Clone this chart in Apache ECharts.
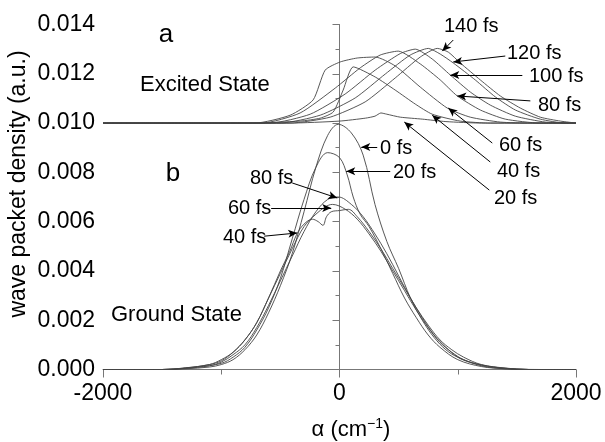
<!DOCTYPE html>
<html>
<head>
<meta charset="utf-8">
<script src="https://cdn.jsdelivr.net/npm/echarts@6/dist/echarts.min.js"></script>
<style>
  html, body { margin: 0; padding: 0; background: #fff; }
  #chart { width: 605px; height: 442px; }
</style>
</head>
<body>
<div id="chart"></div>
<script>
// x in cm^-1, y in a.u.; excited-state curves are drawn on the 0.010 baseline like the original
var xTicks = [-2000, 0, 2000];
var yTicks = [0, 0.002, 0.004, 0.006, 0.008, 0.010, 0.012, 0.014];

// ground state (panel b)
var g0 = [[-2000,0],[-1500,0],[-1300,0.00003],[-1100,0.0001],[-1000,0.0002],[-900,0.0004],[-800,0.0008],
  [-700,0.0014],[-600,0.0023],[-500,0.0034],[-400,0.0047],[-300,0.0064],[-200,0.0082],[-100,0.0095],
  [-10,0.00995],[100,0.0096],[200,0.0087],[300,0.0067],[400,0.0052],[500,0.0041],[600,0.0029],
  [700,0.0020],[800,0.0013],[900,0.0008],[1000,0.0005],[1200,0.00015],[1400,0.00003],[1600,0],[2000,0]];
var g20 = [[-2000,0],[-1500,0],[-1200,0.0001],[-1000,0.00025],[-900,0.0005],[-800,0.0009],[-700,0.0016],
  [-600,0.0025],[-500,0.0037],[-400,0.0053],[-300,0.0069],[-200,0.0082],[-100,0.0088],[0,0.0086],
  [65,0.0079],[116,0.0070],[175,0.0063],[250,0.0058],[350,0.0049],[450,0.0039],[550,0.0029],
  [650,0.0021],[750,0.0014],[850,0.0009],[1000,0.0004],[1200,0.00012],[1400,0.00003],[1600,0],[2000,0]];
var g40 = [[-2000,0],[-1500,0],[-1300,0.00007],[-1100,0.0002],[-1000,0.0004],[-900,0.0007],[-800,0.0012],
  [-700,0.0019],[-600,0.0029],[-500,0.0040],[-420,0.0048],[-360,0.0055],[-300,0.0059],[-230,0.0061],
  [-180,0.0060],[-140,0.00585],[-110,0.0062],[-70,0.0064],[0,0.00645],[75,0.0065],[150,0.0062],
  [250,0.0056],[350,0.0049],[450,0.0041],[550,0.0033],[650,0.0025],[750,0.0018],[850,0.0012],
  [950,0.0008],[1050,0.0005],[1200,0.0002],[1400,0.00006],[1600,0],[2000,0]];
var g60 = [[-2000,0],[-1500,0],[-1300,0.00006],[-1100,0.0002],[-1000,0.00035],[-900,0.0007],[-800,0.0012],
  [-700,0.0019],[-600,0.0029],[-500,0.0039],[-400,0.0049],[-300,0.0058],[-200,0.0063],[-120,0.0066],
  [-60,0.0067],[50,0.0065],[150,0.0061],[250,0.0055],[350,0.0048],[450,0.0040],[550,0.0032],
  [650,0.0024],[750,0.0017],[850,0.0011],[950,0.0007],[1050,0.0004],[1200,0.00018],[1400,0.00005],[1600,0],[2000,0]];
var g80 = [[-2000,0],[-1500,0],[-1300,0.00005],[-1100,0.00015],[-1000,0.0003],[-900,0.0006],[-800,0.0010],
  [-700,0.0017],[-600,0.0026],[-500,0.0036],[-400,0.0046],[-300,0.0056],[-200,0.0064],[-100,0.0069],
  [-10,0.0070],[100,0.0067],[200,0.0062],[300,0.0055],[400,0.0047],[500,0.0038],[600,0.0029],
  [700,0.0021],[800,0.0014],[900,0.0009],[1000,0.0005],[1100,0.0003],[1300,0.0001],[1500,0.00002],[1700,0],[2000,0]];

// excited state (panel a)
var e20 = [[-2000,0.0100],[-420,0.0100],[0,0.01008],[220,0.0102],[300,0.01028],[350,0.01041],[400,0.01036],
  [514,0.01024],[700,0.01016],[900,0.01006],[1200,0.0100],[2000,0.0100]];
var e40 = [[-2000,0.0100],[-755,0.0100],[-333,0.01008],[-163,0.0102],[-53,0.01045],[31,0.01134],[116,0.01228],
  [302,0.01187],[471,0.01134],[641,0.01077],[784,0.01036],[1021,0.01008],[1275,0.0100],[2000,0.0100]];
var e60 = [[-2000,0.0100],[-713,0.0100],[-417,0.01032],[-223,0.01094],[-121,0.01215],[6,0.01248],[150,0.01264],
  [302,0.01268],[471,0.01232],[683,0.01146],[911,0.01061],[1106,0.01024],[1360,0.01004],[1614,0.0100],[2000,0.0100]];
var e80 = [[-2000,0.0100],[-654,0.0100],[-333,0.01041],[-36,0.01142],[175,0.01224],[344,0.01276],[497,0.01292],
  [683,0.01240],[852,0.01175],[996,0.0111],[1191,0.01053],[1402,0.01016],[1698,0.0100],[2000,0.0100]];
var e100 = [[-2000,0.0100],[-587,0.0100],[-248,0.01036],[48,0.01118],[302,0.01215],[514,0.01282],[641,0.01300],
  [784,0.01260],[937,0.01195],[1106,0.01126],[1275,0.01073],[1487,0.01028],[1741,0.01004],[2000,0.0100]];
var e120 = [[-2000,0.0100],[-502,0.0100],[-163,0.01032],[133,0.01102],[387,0.01199],[598,0.01276],[751,0.01303],
  [852,0.01280],[962,0.01244],[1148,0.01175],[1318,0.01106],[1487,0.01053],[1698,0.01016],[1910,0.0100],[2000,0.0100]];
var e140 = [[-2000,0.0100],[-417,0.0100],[-79,0.01024],[217,0.01086],[471,0.01183],[683,0.01268],[827,0.01303],
  [920,0.01288],[1021,0.01244],[1191,0.01175],[1360,0.0111],[1529,0.01061],[1698,0.01024],[1868,0.01008],[2000,0.0100]];

// label arrows: [from, to] in data units
var arrows = [
  [[962,0.01337],[869,0.01292]],
  [[1402,0.01272],[962,0.01248]],
  [[1546,0.01195],[937,0.01195]],
  [[1614,0.0109],[996,0.0111]],
  [[1292,0.00919],[920,0.01061]],
  [[1275,0.00842],[784,0.01032]],
  [[1267,0.00728],[548,0.01004]],
  [[319,0.00903],[184,0.00903]],
  [[429,0.00805],[57,0.00805]],
  [[-400,0.00757],[-19,0.00696]],
  [[-578,0.00655],[-70,0.00655]],
  [[-637,0.00541],[-358,0.00554]]
];

var FONT = "'Liberation Sans', Arial, sans-serif";

var chart = echarts.init(document.getElementById('chart'));

function curve(d, sm) {
  return {
    type: 'line', data: d, showSymbol: false, symbol: 'none', smooth: sm,
    lineStyle: { color: '#444', width: 0.9 }, silent: true, animation: false
  };
}

function txt(s, x, y, size, align) {
  return { type: 'text', x: x, y: y,
    style: { text: s, fontSize: size, fontFamily: FONT, fill: '#000',
      align: align || 'left', verticalAlign: 'middle' } };
}

var series = [g0, g20, g40, g60, g80].map(function (d) { return curve(d, 0.35); })
  .concat([e20, e40, e60, e80, e100, e120, e140].map(function (d) { return curve(d, 0.2); }));

series[0].markLine = {
  silent: true, animation: false,
  symbol: ['none', 'arrow'], symbolSize: [6, 9],
  lineStyle: { color: '#000', width: 1, type: 'solid' },
  label: { show: false },
  data: arrows.map(function (a) { return [{ coord: a[0] }, { coord: a[1] }]; })
};

var option = {
  animation: false,
  grid: { left: 103, right: 29, top: 24.5, bottom: 72.5 },
  xAxis: {
    type: 'value', min: xTicks[0], max: xTicks[xTicks.length - 1], interval: 2000,
    axisLine: { lineStyle: { color: '#777', width: 1 } },
    axisTick: { length: 8, lineStyle: { color: '#777' } },
    minorTick: { show: true, splitNumber: 2, length: 5, lineStyle: { color: '#777' } },
    splitLine: { show: false },
    axisLabel: { color: '#000', fontSize: 23, fontFamily: FONT, margin: 13,
      formatter: function (v) { return String(v); } }
  },
  yAxis: {
    type: 'value', min: yTicks[0], max: yTicks[yTicks.length - 1], interval: 0.002,
    axisLine: { show: true, lineStyle: { color: '#777', width: 1 } },
    axisTick: { show: true, length: 7, lineStyle: { color: '#777' } },
    minorTick: { show: true, splitNumber: 2, length: 4, lineStyle: { color: '#777' } },
    splitLine: { show: false },
    axisLabel: { color: '#000', fontSize: 23, fontFamily: FONT, margin: 8,
      formatter: function (v) { return v.toFixed(3); } }
  },
  graphic: [
    txt('a', 166, 35, 26, 'center'),
    txt('b', 173, 174, 26, 'center'),
    txt('Excited State', 140, 85, 22),
    txt('Ground State', 111, 315, 22),
    txt('140 fs', 444, 26, 20),
    txt('120 fs', 507, 53, 20),
    txt('100 fs', 529, 76, 20),
    txt('80 fs', 538, 105, 20),
    txt('60 fs', 499, 145, 20),
    txt('40 fs', 497, 171, 20),
    txt('20 fs', 494, 198, 20),
    txt('0 fs', 380, 148, 20),
    txt('20 fs', 393, 172, 20),
    txt('80 fs', 250, 178, 20),
    txt('60 fs', 228, 208, 20),
    txt('40 fs', 223, 237, 20),
    { type: 'text', x: 19, y: 184, rotation: Math.PI / 2,
      style: { text: 'wave packet density (a.u.)', fontSize: 23, fontFamily: FONT, fill: '#000',
        align: 'center', verticalAlign: 'middle' } },
    { type: 'text', x: 351, y: 430,
      style: { text: '{n|α (cm}{s|−1}{n|)}', fill: '#000', align: 'center', verticalAlign: 'middle',
        rich: {
          n: { fontSize: 22, fontFamily: FONT, lineHeight: 26 },
          s: { fontSize: 14, fontFamily: FONT, lineHeight: 14, verticalAlign: 'top' }
        } } }
  ],
  series: series
};

chart.setOption(option);
</script>
</body>
</html>
